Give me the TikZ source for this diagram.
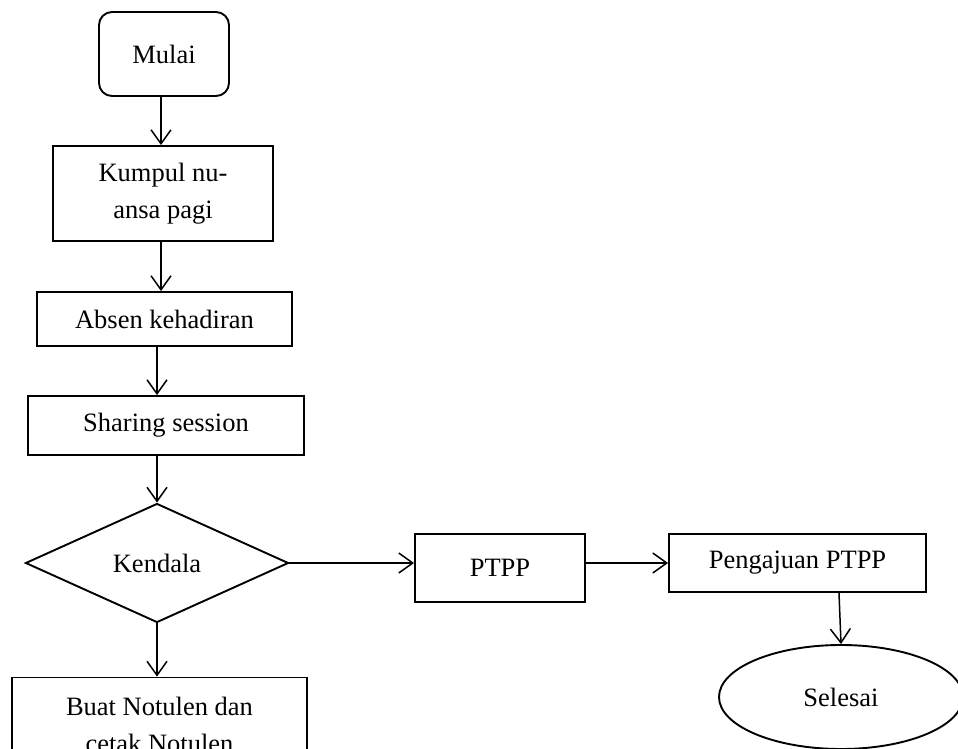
\documentclass[tikz,border=0pt]{standalone}
\usepackage{fontspec}
\setmainfont{Liberation Serif}
\usetikzlibrary{arrows.meta,shapes.geometric,calc}
\begin{document}
\begin{tikzpicture}[x=1pt,y=-1pt,
  every node/.style={font=\fontsize{26.5}{37}\selectfont, inner sep=0pt, align=center},
  box/.style={draw, line width=1.9pt, rectangle},
  startbox/.style={draw, line width=1.9pt, rectangle, rounded corners=13pt},
  decision/.style={draw, line width=1.9pt, diamond, aspect=2.2},
  endbox/.style={draw, line width=1.9pt, ellipse},
  arr/.style={line width=1.5pt, -{Straight Barb[length=14pt,width=20pt,line width=1.5pt]}}
]
\useasboundingbox (0,0) rectangle (958,749);
\node[startbox, minimum width=130pt, minimum height=84pt] (mulai) at (164,54) {Mulai};
\node[box, minimum width=220pt, minimum height=95pt] (kumpul) at (163,193.5) {Kumpul nu-\\ansa pagi};
\node[box, minimum width=255pt, minimum height=54pt] (absen) at (164.5,319) {Absen kehadiran};
\node[box, minimum width=276pt, minimum height=59pt] (sharing) at (166,425.5) {Sharing session};
\node[decision, minimum width=263pt, minimum height=119pt] (kendala) at (157,563) {Kendala};
\node[box, minimum width=295pt, minimum height=95pt] (buat) at (159.5,725) {Buat Notulen dan\\cetak Notulen};
\node[box, minimum width=170pt, minimum height=68pt] (ptpp) at (500,568) {PTPP};
\node[box, minimum width=257pt, minimum height=58pt] (pengajuan) at (797.5,563) {Pengajuan PTPP};
\node[endbox, minimum width=244pt, minimum height=104pt] (selesai) at (841,697) {Selesai};

\coordinate (c1) at (161,0);
\draw[arr] (mulai.south -| c1) -- (kumpul.north -| c1);
\draw[arr] (kumpul.south -| c1) -- (absen.north -| c1);
\draw[arr] (absen.south -| kendala.north) -- (sharing.north -| kendala.north);
\draw[arr] (sharing.south -| kendala.north) -- (kendala.north);
\draw[arr] (kendala.south) -- (buat.north -| kendala.south);
\draw[arr] (kendala.east) -- (kendala.east -| ptpp.west);
\draw[arr] (pengajuan.west -| ptpp.east) -- (pengajuan.west);
\draw[arr] ([xshift=41.5pt]pengajuan.south) -- (selesai.north);
\end{tikzpicture}
\end{document}
